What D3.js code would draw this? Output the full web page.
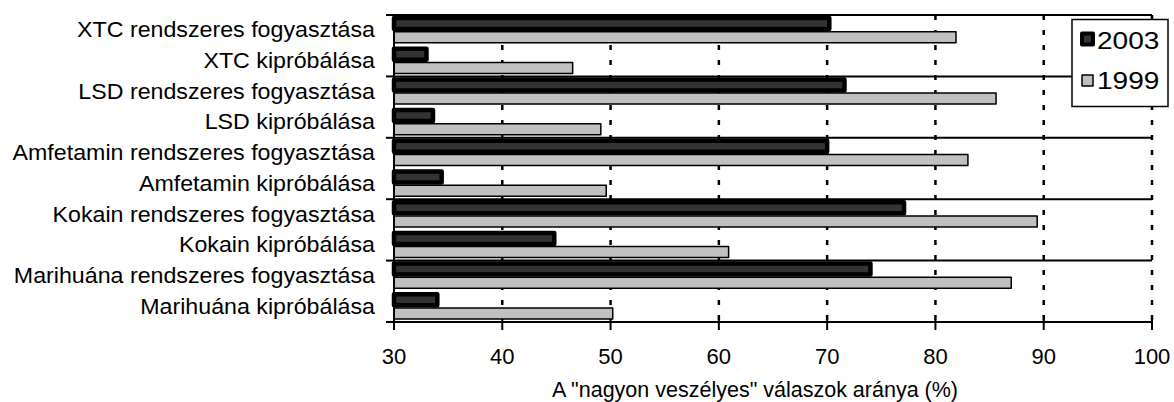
<!DOCTYPE html>
<html>
<head>
<meta charset="utf-8">
<script src="https://cdn.jsdelivr.net/npm/d3@7"></script>
<style>
  html, body { margin: 0; padding: 0; background: #fff; }
  svg { display: block; font-family: "Liberation Sans", Arial, Helvetica, sans-serif; }
</style>
</head>
<body>
<svg id="chart" width="1174" height="402"></svg>
<script>
const categories = [
  "XTC rendszeres fogyasztása",
  "XTC kipróbálása",
  "LSD rendszeres fogyasztása",
  "LSD kipróbálása",
  "Amfetamin rendszeres fogyasztása",
  "Amfetamin kipróbálása",
  "Kokain rendszeres fogyasztása",
  "Kokain kipróbálása",
  "Marihuána rendszeres fogyasztása",
  "Marihuána kipróbálása"
];
const seriesNames = ["2003", "1999"];
const values2003 = [70.2, 33.0, 71.6, 33.6, 70.0, 34.4, 77.1, 44.8, 74.0, 34.0];
const values1999 = [81.9, 46.5, 85.6, 49.1, 83.0, 49.6, 89.4, 60.9, 87.0, 50.2];
const xTicks = [30, 40, 50, 60, 70, 80, 90, 100];
const xTitle = 'A "nagyon veszélyes" válaszok aránya (%)';

(function () {
const seriesValues = { "2003": values2003, "1999": values1999 };
const fills = { "2003": "#333333", "1999": "#c0c0c0" };
const strokeW = { "2003": 4.5, "1999": 1.5 };

const svg = d3.select("#chart");
const mLeft = 394, mRight = 1152, mTop = 15, mBottom = 322;

const x = d3.scaleLinear().domain([30, 100]).range([mLeft, mRight]);
const y = d3.scaleBand().domain(categories).range([mTop, mBottom]).padding(0);
const ys = d3.scaleBand().domain(seriesNames).range([0, y.bandwidth()])
  .paddingInner(0.2).paddingOuter(0.2165);

// group boundaries (every 2 categories)
const boundaries = d3.range(0, categories.length + 1, 2).map(i =>
  i < categories.length ? y(categories[i]) : mBottom);

// horizontal solid gridlines
svg.append("g").selectAll("line").data(boundaries).join("line")
  .attr("x1", mLeft).attr("x2", mRight)
  .attr("y1", d => d).attr("y2", d => d)
  .attr("stroke", "#000").attr("stroke-width", 2);

// vertical dashed gridlines
svg.append("g").selectAll("line").data(xTicks.slice(1)).join("line")
  .attr("x1", d => x(d)).attr("x2", d => x(d))
  .attr("y1", mTop).attr("y2", mBottom)
  .attr("stroke", "#000").attr("stroke-width", 2.5)
  .attr("stroke-dasharray", "5,10");

// bars
const rows = categories.map((c, i) => ({ c, i }));
seriesNames.forEach(s => {
  svg.append("g").selectAll("rect").data(rows).join("rect")
    .attr("x", x(30))
    .attr("y", d => y(d.c) + ys(s))
    .attr("width", d => x(seriesValues[s][d.i]) - x(30))
    .attr("height", ys.bandwidth())
    .attr("fill", fills[s])
    .attr("stroke", "#000")
    .attr("stroke-width", strokeW[s])
    .attr("stroke-linejoin", "round");
});

// left axis
svg.append("line").attr("x1", mLeft).attr("x2", mLeft).attr("y1", mTop).attr("y2", mBottom)
  .attr("stroke", "#000").attr("stroke-width", 2);
svg.append("g").selectAll("line").data(boundaries).join("line")
  .attr("x1", mLeft - 8).attr("x2", mLeft)
  .attr("y1", d => d).attr("y2", d => d)
  .attr("stroke", "#000").attr("stroke-width", 2);

// bottom axis
svg.append("line").attr("x1", mLeft - 8).attr("x2", mRight).attr("y1", mBottom).attr("y2", mBottom)
  .attr("stroke", "#000").attr("stroke-width", 2);
svg.append("g").selectAll("line").data(xTicks).join("line")
  .attr("x1", d => x(d)).attr("x2", d => x(d))
  .attr("y1", mBottom - 2).attr("y2", mBottom + 8)
  .attr("stroke", "#000").attr("stroke-width", 2);
svg.append("g").selectAll("text").data(xTicks).join("text")
  .attr("x", d => x(d)).attr("y", 364)
  .attr("text-anchor", "middle")
  .attr("font-size", 22).attr("fill", "#000")
  .text(d => d);

// axis title
svg.append("text").attr("x", (mLeft + mRight) / 2 - 18).attr("y", 396.5)
  .attr("text-anchor", "middle").attr("font-size", 21.5).attr("fill", "#000")
  .text(xTitle);

// category labels
svg.append("g").selectAll("g").data(categories).join("g")
  .attr("transform", d => `translate(375,${y(d) + y.bandwidth() / 2 + 7}) scale(1.055,1)`)
  .append("text")
  .attr("text-anchor", "end").attr("font-size", 22).attr("fill", "#000")
  .text(d => d);

// legend
const lg = svg.append("g");
lg.append("rect").attr("x", 1072).attr("y", 19.5).attr("width", 96).attr("height", 87)
  .attr("fill", "#fff").attr("stroke", "#000").attr("stroke-width", 1.5);
const legendRows = [{ s: "2003", cy: 39, by: 48.5 }, { s: "1999", cy: 80.5, by: 88.5 }];
legendRows.forEach(r => {
  const sw = 11;
  lg.append("rect").attr("x", 1082).attr("y", r.cy - sw / 2)
    .attr("width", sw).attr("height", sw)
    .attr("fill", fills[r.s]).attr("stroke", "#000")
    .attr("stroke-width", r.s === "2003" ? 4 : 1.5)
    .attr("stroke-linejoin", "round");
  lg.append("g").attr("transform", `translate(1097,${r.by}) scale(1.22,1)`)
    .append("text").attr("font-size", 23).attr("fill", "#000").text(r.s);
});
})();
</script>
</body>
</html>
